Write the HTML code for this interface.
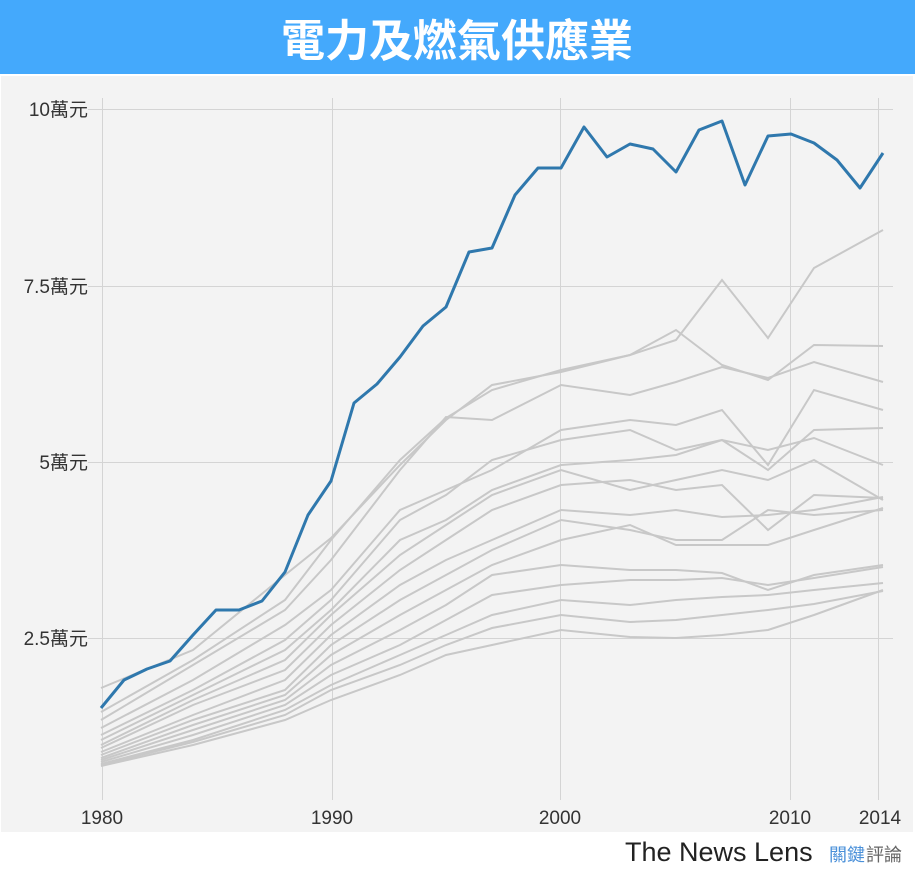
<!DOCTYPE html>
<html><head><meta charset="utf-8"><style>
body{margin:0;width:915px;height:870px;background:#fff;overflow:hidden;font-family:"Liberation Sans","Noto Sans CJK TC",sans-serif}
</style></head><body>
<svg width="915" height="870" xmlns="http://www.w3.org/2000/svg" font-family="'Liberation Sans','Noto Sans CJK TC',sans-serif">
<rect x="0" y="0" width="915" height="74" fill="#44a9fc"/>
<text x="457" y="56" text-anchor="middle" font-size="44" font-weight="bold" fill="#fff">電力及燃氣供應業</text>
<rect x="1" y="76" width="912" height="756" fill="#f3f3f3"/>
<g stroke="#d4d4d4" stroke-width="1">
<line x1="88" y1="109.5" x2="893" y2="109.5"/><line x1="88" y1="286.5" x2="893" y2="286.5"/>
<line x1="88" y1="462.5" x2="893" y2="462.5"/><line x1="88" y1="638.5" x2="893" y2="638.5"/>
<line x1="102.5" y1="98" x2="102.5" y2="800"/><line x1="332.5" y1="98" x2="332.5" y2="800"/>
<line x1="560.5" y1="98" x2="560.5" y2="800"/><line x1="790.5" y1="98" x2="790.5" y2="800"/>
<line x1="878.5" y1="98" x2="878.5" y2="800"/>
</g>
<g font-size="19" fill="#333" text-anchor="end">
<text x="88" y="116">10萬元</text><text x="88" y="293">7.5萬元</text><text x="88" y="469">5萬元</text><text x="88" y="645">2.5萬元</text>
</g>
<g font-size="19" fill="#333" text-anchor="middle">
<text x="102" y="824">1980</text><text x="332" y="824">1990</text><text x="560" y="824">2000</text><text x="790" y="824">2010</text><text x="880" y="824">2014</text>
</g>
<g id="gray" fill="none" stroke="#c8c8c8" stroke-width="2"></g>
<polyline id="blue" fill="none" stroke="#2f78ad" stroke-width="3" stroke-linejoin="round"/>
<text x="625" y="861" font-size="27" fill="#222">The News Lens</text>
<text x="829" y="861" font-size="18" fill="#4a90d9">關鍵</text><text x="866" y="861" font-size="18" fill="#666">評論</text>
</svg>
<script>
var X=function(y){return 101+23*(y-1980)};
var yrs=[1980,1984,1988,1990,1993,1995,1997,2000,2003,2005,2007,2009,2011,2014];
var L=[[688,650,575,538,465,420,385,372,355,340,280,338,268,230],
[712,660,600,540,460,418,390,370,355,330,365,380,345,346],
[720,665,610,560,470,417,420,385,395,382,367,378,362,382],
[728,680,625,590,510,490,470,430,420,425,410,465,390,410],
[735,690,640,600,520,495,460,440,430,450,440,470,430,428],
[740,695,650,610,540,520,490,465,460,455,440,450,438,465],
[745,700,660,615,555,525,495,470,490,480,470,480,460,500],
[748,705,670,625,570,540,510,485,480,490,485,530,495,498],
[752,715,680,635,585,560,540,510,515,510,517,515,510,497],
[755,720,690,645,600,575,550,520,530,540,540,510,515,510],
[758,725,695,655,615,590,565,540,525,545,545,545,530,508],
[760,730,700,665,630,605,575,565,570,570,573,590,575,565],
[762,735,705,675,645,620,595,585,580,580,578,585,578,567],
[764,740,710,685,655,635,615,600,605,600,597,595,590,583],
[765,742,715,690,665,645,628,615,622,620,615,610,604,591],
[766,745,720,700,675,655,645,630,637,638,635,630,615,590]];
var g=document.getElementById('gray');
L.forEach(function(a){var p=document.createElementNS('http://www.w3.org/2000/svg','polyline');
p.setAttribute('points',a.map(function(v,i){return X(yrs[i])+','+v}).join(' '));g.appendChild(p);});
var B=[708,680,669,661,635,610,610,601,572,515,481,403,384,357,326,307,252,248,195,168,168,127,157,144,149,172,130,121,185,136,134,143,160,188,153];
document.getElementById('blue').setAttribute('points',B.map(function(v,i){return X(1980+i)+','+v}).join(' '));
</script>
</body></html>
